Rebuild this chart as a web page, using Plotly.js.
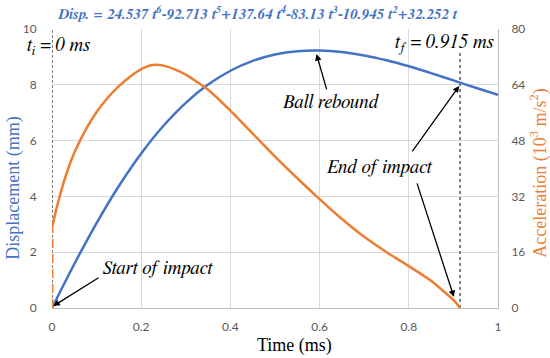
<!DOCTYPE html>
<html>
<head>
<meta charset="utf-8">
<script src="https://cdn.plot.ly/plotly-3.0.1.min.js"></script>
<style>html,body{margin:0;padding:0;background:#fff}#chart{width:550px;height:358px}</style>
</head>
<body>
<div id="chart"></div>
<script>
// Displacement (mm) vs time (ms)
const dispTime = [0,0.05,0.1,0.15,0.2,0.25,0.3,0.35,0.4,0.45,0.5,0.55,0.6,0.65,0.7,0.75,0.8,0.85,0.9,0.95,1.0];
const dispVals = [0,1.576,3.046,4.374,5.540,6.533,7.354,8.007,8.504,8.859,9.087,9.205,9.229,9.173,9.052,8.878,8.664,8.420,8.159,7.894,7.641];
// Acceleration (10^3 m/s^2) vs time (ms)
const accTime = [0,0.01,0.02,0.035,0.05,0.075,0.1,0.125,0.15,0.175,0.2,0.225,0.25,0.275,0.3,0.35,0.4,0.45,0.5,0.55,0.6,0.65,0.7,0.75,0.8,0.85,0.9,0.915];
const accVals = [23,28.5,33.3,39.5,44.5,51,56.2,60.3,63.6,66.3,68.5,69.7,69.5,68.4,66.9,62.6,56.6,50,43.4,37.2,31.2,25.5,20.4,16.0,12.0,7.8,2.3,0];
// Impact start marker (orange dashed jump at t=0)
const jumpTime = [0,0];
const jumpVals = [0,23];
// Reference lines
const tiLineX = [0,0], tiLineY = [0,10];
const tfLineX = [0.915,0.915], tfLineY = [0,9.2];

const xTicks = [0,0.2,0.4,0.6,0.8,1];
const xTickText = ['0','0.2','0.4','0.6','0.8','1'];
const yTicks = [0,2,4,6,8,10];
const y2Ticks = [0,16,32,48,64,80];

const BLUE = '#4472C4', ORANGE = '#ED7D31';
const serif = 'Liberation Serif';
const italicSerif = 'FreeSerif';
const tickFont = {family:'Lato, Calibri, sans-serif', size:12, color:'#595959'};

const traces = [
  {x:tiLineX, y:tiLineY, mode:'lines', line:{color:'#000', width:1, dash:'3px,2px'}, hoverinfo:'skip'},
  {x:tfLineX, y:tfLineY, mode:'lines', line:{color:'#595959', width:1.5, dash:'3px,3px'}, hoverinfo:'skip'},
  {x:jumpTime, y:jumpVals, yaxis:'y2', mode:'lines', line:{color:ORANGE, width:3, dash:'9px,6px'}},
  {x:accTime, y:accVals, yaxis:'y2', mode:'lines', line:{color:ORANGE, width:2.5, shape:'spline', smoothing:0.5}},
  {x:dispTime, y:dispVals, mode:'lines', line:{color:BLUE, width:2.5, shape:'spline', smoothing:0.6}}
];

const arrowCommon = {xref:'x', yref:'y', showarrow:true, arrowhead:2, arrowsize:1, arrowwidth:1.3, arrowcolor:'#000', text:''};
const lblFont = {family:italicSerif, size:19, color:'#000'};

const layout = {
  width:550, height:358,
  margin:{l:52, r:52, t:29, b:50},
  paper_bgcolor:'#fff', plot_bgcolor:'#fff',
  showlegend:false,
  title:{text:'<b><i>Disp. = 24.537 t<sup>6</sup>-92.713 t<sup>5</sup>+137.64 t<sup>4</sup>-83.13 t<sup>3</sup>-10.945 t<sup>2</sup>+32.252 t</i></b>',
         font:{family:italicSerif, size:15, color:BLUE}, x:0.468, xanchor:'center', y:0.962, yanchor:'middle', xref:'container', yref:'container'},
  xaxis:{range:[0,1], tickvals:xTicks, ticktext:xTickText, showgrid:true, gridcolor:'#d9d9d9', gridwidth:1,
         showline:true, linecolor:'#bfbfbf', linewidth:1, zeroline:false, ticks:'outside', ticklen:8, tickcolor:'rgba(0,0,0,0)',
         tickfont:tickFont, fixedrange:true},
  yaxis:{range:[0,10], tickvals:yTicks, showgrid:true, gridcolor:'#d9d9d9', gridwidth:1, zeroline:false, showline:false,
         ticks:'outside', ticklen:12, tickcolor:'rgba(0,0,0,0)', tickfont:tickFont},
  yaxis2:{range:[0,80], tickvals:y2Ticks, overlaying:'y', side:'right', showgrid:false, zeroline:false,
          showline:true, linecolor:'#bfbfbf', linewidth:1, ticks:'outside', ticklen:10, tickcolor:'rgba(0,0,0,0)', tickfont:tickFont},
  annotations:[
    {xref:'paper', yref:'paper', x:-0.088, y:0.43, text:'Displacement (mm)', textangle:-90, showarrow:false,
     font:{family:serif, size:18, color:BLUE}, xanchor:'center', yanchor:'middle'},
    {xref:'paper', yref:'paper', x:1.092, y:0.485, text:'Acceleration (10<sup>3</sup> m/s<sup>2</sup>)', textangle:-90, showarrow:false,
     font:{family:serif, size:18, color:ORANGE}, xanchor:'center', yanchor:'middle'},
    {xref:'paper', yref:'paper', x:0.543, y:-0.135, text:'Time (ms)', showarrow:false,
     font:{family:serif, size:18, color:'#000'}, xanchor:'center', yanchor:'middle'},
    {xref:'x', yref:'y', x:0.015, y:9.36, text:'<i>t<sub>i</sub> = 0 ms</i>', showarrow:false, font:lblFont, xanchor:'center', yanchor:'middle'},
    {xref:'x', yref:'y', x:0.879, y:9.46, text:'<i>t<sub>f</sub> = 0.915 ms</i>', showarrow:false, font:lblFont, xanchor:'center', yanchor:'middle'},
    {xref:'x', yref:'y', x:0.627, y:7.37, text:'<i>Ball rebound</i>', showarrow:false, font:lblFont, xanchor:'center', yanchor:'middle'},
    {xref:'x', yref:'y', x:0.735, y:5.05, text:'<i>End of impact</i>', showarrow:false, font:lblFont, xanchor:'center', yanchor:'middle'},
    {xref:'x', yref:'y', x:0.238, y:1.42, text:'<i>Start of impact</i>', showarrow:false, font:lblFont, xanchor:'center', yanchor:'middle'},
    Object.assign({}, arrowCommon, {x:0.593, y:9.1, ax:10.6, ay:36.7}),
    Object.assign({}, arrowCommon, {x:0.003, y:0.07, ax:46.7, ay:-29.3}),
    Object.assign({}, arrowCommon, {x:0.913, y:7.96, ax:-48, ay:67}),
    Object.assign({}, arrowCommon, {x:0.901, y:0.4, ax:-37.3, ay:-115})
  ]
};

Plotly.newPlot('chart', traces, layout, {displayModeBar:false, staticPlot:true});
</script>
</body>
</html>
